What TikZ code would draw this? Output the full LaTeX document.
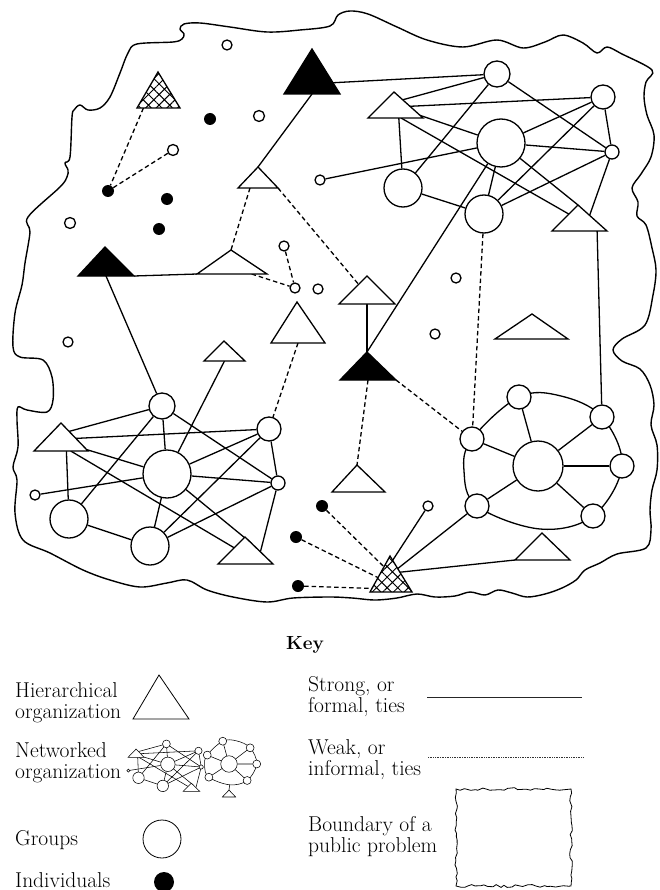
\documentclass[tikz,border=0pt]{standalone}
\usetikzlibrary{calc,patterns.meta,decorations.pathmorphing,backgrounds}
\newcommand\clw{1.3pt}
\newcommand\kf{\fontsize{21.5}{21}\selectfont}
\newcommand\twol[2]{\begin{tabular}[t]{@{}l@{}}#1\\#2\end{tabular}}
\newcommand\mktri[7]{%
  \coordinate (#1a) at (#2,#3);
  \coordinate (#1l) at (#4,#6);
  \coordinate (#1r) at (#5,#6);
  \coordinate (#1b) at ({(#4+#5)/2},#6);
  \path[#7] (#1a) -- (#1l) -- (#1r) -- cycle;}
% bottom-left networked organization
\newcommand\clusterL[1]{%
  \node[grp=26pt] (#1p1) at (162,406) {};
  \node[grp=48pt] (#1p2) at (167,474) {};
  \node[grp=24pt] (#1p3) at (269,429) {};
  \node[grp=14pt] (#1p4) at (278,483) {};
  \node[grp=38pt] (#1p5) at (69,519) {};
  \node[grp=38pt] (#1p6) at (150,546) {};
  \node[grp=10pt] (#1p7) at (35,495) {};
  \mktri{#1q1}{61}{423}{34}{88}{451}{otri}
  \mktri{#1q2}{245}{537}{218}{273}{564}{otri}
  \begin{pgfonlayer}{background}
  \draw[st] ($(#1q1a)!0.3!(#1q1r)$) -- (#1p1);
  \draw[st] ($(#1q1a)!0.55!(#1q1r)$) -- (#1p3);
  \draw[st] ($(#1q1a)!0.95!(#1q1r)$) -- (#1p2);
  \draw[st] ($(#1q1l)!0.6!(#1q1r)$) -- (#1p5);
  \draw[st] ($(#1q1l)!0.68!(#1q1r)$) -- ($(#1q2a)!0.4!(#1q2l)$);
  \draw[st] (#1p1) -- (#1p5);
  \draw[st] (#1p1) -- (#1p2);
  \draw[st] (#1p1) -- (#1p4);
  \draw[st] (#1p3) -- (#1p2);
  \draw[st] (#1p3) -- (#1p6);
  \draw[st] (#1p3) -- (#1p4);
  \draw[st] (#1p2) -- (#1p4);
  \draw[st] (#1p2) -- ($(#1q2a)!0.25!(#1q2r)$);
  \draw[st] (#1p2) -- (#1p7);
  \draw[st] (#1p2) -- (#1p6);
  \draw[st] (#1p4) -- (#1p6);
  \draw[st] (#1p4) -- ($(#1q2a)!0.55!(#1q2r)$);
  \draw[st] (#1p5) -- (#1p6);
  \end{pgfonlayer}}
% ring networked organization
\newcommand\clusterR[1]{%
  \node[grp=50pt] (#1c) at (538,466) {};
  \node[grp=24pt] (#1r1) at (519,397) {};
  \node[grp=24pt] (#1r2) at (602,417) {};
  \node[grp=24pt] (#1r3) at (622,466) {};
  \node[grp=24pt] (#1r4) at (593,516) {};
  \node[grp=24pt] (#1r5) at (477,506) {};
  \node[grp=24pt] (#1r6) at (472,439) {};
  \coordinate (#1bot) at (540,529);
  \begin{pgfonlayer}{background}
  \draw[st] plot[smooth cycle, tension=0.6] coordinates {(#1r6.center) (#1r1.center) (561,396) (#1r2.center) (#1r3.center) (#1r4.center) (#1bot) (#1r5.center) (464,471)};
  \draw[st] (#1c) -- (#1r1);
  \draw[st] (#1c) -- (#1r2);
  \draw[st] (#1c) -- (#1r3);
  \draw[st] (#1c) -- (#1r4);
  \draw[st] (#1c) -- (#1r5);
  \draw[st] (#1c) -- (#1r6);
  \end{pgfonlayer}}
\begin{document}
\begin{tikzpicture}[x=1pt,y=-1pt,
  grp/.style={circle,draw,fill=white,line width=\clw,inner sep=0pt,minimum size=#1},
  grp/.default=10pt,
  ind/.style={circle,fill=black,inner sep=0pt,minimum size=#1},
  ind/.default=12pt,
  st/.style={line width=\clw},
  wk/.style={line width=\clw,dash pattern=on 4.5pt off 3pt},
  otri/.style={draw,fill=white,line width=\clw},
  btri/.style={draw,fill=black,line width=\clw},
  htri/.style={draw,line width=\clw,preaction={fill=white},pattern={Hatch[angle=45,distance=7.5pt,line width=1pt]}},
  keytext/.style={anchor=base west,inner sep=0pt,font=\kf},
]
\useasboundingbox (0,0) rectangle (660,890);
% boundary of the public problem
\draw[line width=1.4pt] plot[smooth cycle, tension=0.55] coordinates {
 (137,44) (173,42) (182,39) (184,34) (180,29) (184,24) (200,23) (230,27) (267,32) (300,30) (330,26) (338,15) (350,11) (368,14) (397,27) (427,40) (463,47) (497,40) (523,48) (545,42) (563,35) (583,43) (597,53) (607,47) (622,54) (652,70) (646,82) (644,97) (647,115) (654,135) (651,157) (641,174) (632,188) (638,202) (637,216) (646,225) (652,248) (656,270) (653,295) (645,325) (622,339) (613,350) (622,361) (640,369) (650,385) (654,405) (651,425) (657,445) (657,470) (652,490) (650,510) (651,530) (646,548) (617,554) (600,563) (585,570) (576,580) (562,588) (545,594) (527,597) (512,593) (498,590) (485,595) (470,592) (455,596) (435,597) (417,594) (397,598) (375,600) (352,598) (330,597) (293,598) (267,602) (233,597) (207,590) (187,580) (167,583) (140,587) (110,580) (83,570) (50,553) (23,540) (15,513) (17,480) (13,467) (18,447) (17,420) (18,407) (27,410) (47,412) (53,400) (52,377) (43,360) (20,357) (13,347) (15,313) (22,285) (25,263) (30,232) (28,217) (60,187) (67,177) (68,170) (65,163) (70,157) (72,117) (74,110) (80,105) (88,110) (100,108) (110,97) (120,73) (128,53)};
% individual groups and individuals
\node[grp=10pt] (o1) at (227,45) {};
\node[grp=11pt] (o2) at (259,116) {};
\node[grp=11pt] (o3) at (173,150) {};
\node[grp=11pt] (o4) at (70,223) {};
\node[grp=10pt] (o5) at (320,180) {};
\node[grp=10pt] (o6) at (284,246) {};
\node[grp=10pt] (o7) at (295,288) {};
\node[grp=10pt] (o8) at (318,289) {};
\node[grp=10pt] (o9) at (456,278) {};
\node[grp=10pt] (o10) at (435,334) {};
\node[grp=10pt] (o11) at (68,342) {};
\node[grp=10pt] (o12) at (428,506) {};
\node[ind] (b1) at (210,119) {};
\node[ind] (b2) at (108,191) {};
\node[ind] (b3) at (167,199) {};
\node[ind] (b4) at (159,229) {};
\node[ind] (b5) at (322,506) {};
\node[ind] (b6) at (296,537) {};
\node[ind] (b7) at (298,586) {};
% top-right networked organization
\node[grp=26pt] (cA) at (497,74) {};
\node[grp=24pt] (cB) at (603,97) {};
\node[grp=48pt] (cC) at (501,143) {};
\node[grp=14pt] (cD) at (612,152) {};
\node[grp=38pt] (cE) at (403,188) {};
\node[grp=38pt] (cF) at (484,214) {};
\mktri{t1}{394}{92}{368}{423}{118}{otri}
\mktri{t2}{578}{205}{552}{607}{231}{otri}
% other clusters
\clusterL{m}
\clusterR{rg}
% hierarchical organizations
\mktri{ht1}{158}{72}{137}{180}{108}{htri}
\mktri{bt1}{312}{49}{284}{340}{94}{btri}
\mktri{st1}{258}{167}{238}{278}{188}{otri}
\mktri{bt2}{105}{247}{78}{134}{276}{btri}
\mktri{mt1}{231}{250}{197}{267}{274}{otri}
\mktri{rt1}{367}{276}{339}{395}{304}{otri}
\mktri{bt3}{367}{352}{340}{396}{380}{btri}
\mktri{lt1}{297}{302}{271}{325}{343}{otri}
\mktri{lt2}{224}{341}{204}{245}{361}{otri}
\mktri{mt2}{532}{314}{495}{568}{339}{otri}
\mktri{lt3}{357}{465}{332}{385}{492}{otri}
\mktri{ht2}{390}{556}{370}{412}{592}{htri}
\mktri{brt}{542}{533}{515}{570}{560}{otri}
% ties
\begin{pgfonlayer}{background}
\draw[wk] ($(ht1l)!0.15!(ht1r)$) -- (b2);
\draw[wk] (b2) -- (o3);
\draw[st] (bt1b) -- (st1a);
\draw[st] ($(bt1a)!0.75!(bt1r)$) -- (cA);
\draw[wk] ($(st1l)!0.3!(st1r)$) -- (mt1a);
\draw[wk] (st1r) -- ($(rt1a)!0.3!(rt1l)$);
\draw[st] (bt2r) -- (mt1l);
\draw[st] (bt2b) -- (mp1);
\draw[wk] ($(mt1l)!0.78!(mt1r)$) -- (o7);
\draw[wk] (o6) -- (o7);
\draw[st] (rt1b) -- (bt3a);
\draw[st] (bt3a) -- (cC);
\draw[wk] (bt3r) -- (rgr6);
\draw[wk] (bt3b) -- (lt3a);
\draw[wk] (lt1b) -- (mp3);
\draw[st] (lt2b) -- (mp2);
\draw[st] ($(t1a)!0.3!(t1r)$) -- (cA);
\draw[st] ($(t1a)!0.55!(t1r)$) -- (cB);
\draw[st] ($(t1a)!0.9!(t1r)$) -- (cC);
\draw[st] ($(t1l)!0.6!(t1r)$) -- ($(t2a)!0.35!(t2l)$);
\draw[st] ($(t1l)!0.56!(t1r)$) -- (cE);
\draw[st] (cA) -- (cE);
\draw[st] (cA) -- (cD);
\draw[st] (cB) -- (cC);
\draw[st] (cB) -- (cF);
\draw[st] (cB) -- (cD);
\draw[st] (cC) -- (cD);
\draw[st] (o5) -- (cC);
\draw[st] (cC) -- (cF);
\draw[st] (cC) -- (t2a);
\draw[st] (cD) -- ($(t2a)!0.4!(t2r)$);
\draw[st] (cD) -- (cF);
\draw[st] (cE) -- (cF);
\draw[wk] (cF) -- (rgr6);
\draw[st] ($(t2l)!0.82!(t2r)$) -- (rgr2);
\draw[st] ($(ht2a)!0.12!(ht2r)$) -- (o12);
\draw[st] ($(ht2a)!0.35!(ht2r)$) -- (rgr5);
\draw[st] ($(ht2a)!0.45!(ht2r)$) -- (brtl);
\draw[wk] (b5) -- ($(ht2a)!0.3!(ht2l)$);
\draw[wk] (b6) -- ($(ht2a)!0.6!(ht2l)$);
\draw[wk] (b7) -- ($(ht2a)!0.9!(ht2l)$);
\end{pgfonlayer}
% ---------------- key ----------------
\node[anchor=base west,inner sep=0pt,font=\fontsize{19}{20}\selectfont\bfseries] (key) at (286,649) {Key};
\node[keytext] (kh) at (15,697) {\twol{Hierarchical}{organization}};
\node[keytext] (kn) at (15,757) {\twol{Networked}{organization}};
\node[keytext] (kg) at (15,845) {Groups};
\node[keytext] (ki) at (15,887) {Individuals};
\node[keytext] (ks) at (308,691) {\twol{Strong, or}{formal, ties}};
\node[keytext] (kw) at (308,754) {\twol{Weak, or}{informal, ties}};
\node[keytext] (kb) at (308,831) {\twol{Boundary of a}{public problem}};
\begin{scope}
 \renewcommand\clw{0.8pt}
 \mktri{kt}{159}{675}{133}{189}{719}{otri}
 \node[grp=38pt] (kgc) at (162,839) {};
\end{scope}
\node[ind=20pt] (kic) at (164,882) {};
\begin{scope}[shift={(117.8,622.1)},scale=0.3,transform shape]
 \renewcommand\clw{0.55pt}
 \clusterL{k}
\end{scope}
\begin{scope}[shift={(51.46,610.2)},scale=0.33,transform shape]
 \renewcommand\clw{0.55pt}
 \clusterR{kr}
 \mktri{krt}{538}{545}{518}{558}{566}{otri}
 \draw[st] (krbot) -- (krta);
\end{scope}
\coordinate (ks1) at (427,697);
\coordinate (ks2) at (582,697);
\draw[line width=0.9pt,black!85] (ks1) -- (ks2);
\coordinate (kw1) at (428,757);
\coordinate (kw2) at (583,757);
\draw[line width=0.7pt,black!80,dash pattern=on 1pt off 0.7pt] (kw1) -- (kw2);
\coordinate (kbd1) at (456,789);
\coordinate (kbd2) at (571,886);
\pgfmathsetseed{7}
\draw[line width=0.8pt,decorate,decoration={random steps,segment length=4pt,amplitude=1.4pt}] (kbd1) rectangle (kbd2);
\end{tikzpicture}
\end{document}
